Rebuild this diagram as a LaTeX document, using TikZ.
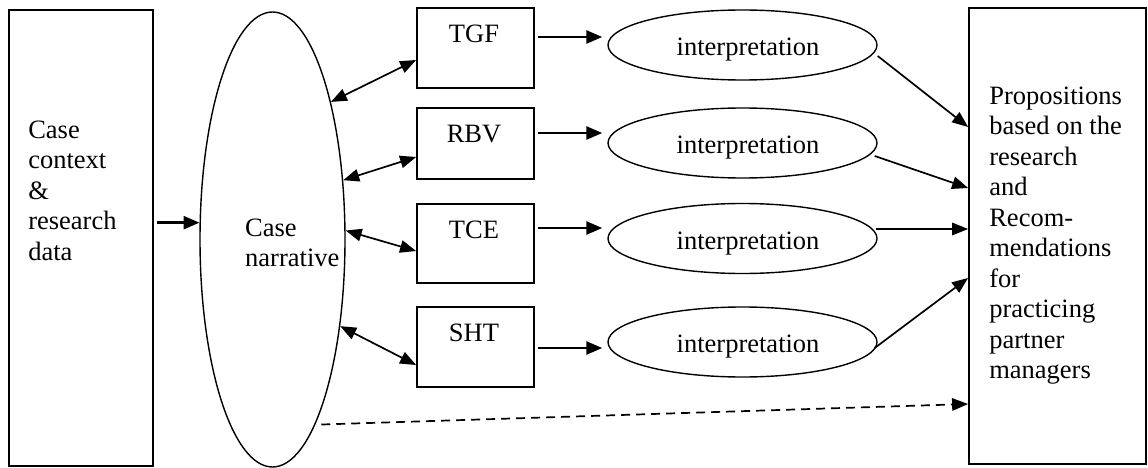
\documentclass[tikz,border=0pt]{standalone}
\usepackage{fontspec}
\setmainfont{Liberation Serif}
\usetikzlibrary{arrows.meta,calc,shapes.geometric}
\begin{document}
\begin{tikzpicture}[x=1pt,y=-1pt,
  txt/.style={inner sep=0pt, font=\fontsize{26.5}{30.5}\selectfont, align=left},
  frame/.style={draw, rectangle, line width=1.8pt, inner sep=0pt},
  oval/.style={draw, ellipse, line width=1.4pt, inner sep=0pt},
  arr/.style={-{Triangle[length=16pt,width=12.5pt]}, line width=1.7pt},
  darr/.style={{Triangle[length=16pt,width=12.5pt]}-{Triangle[length=16pt,width=12.5pt]}, line width=1.7pt},
  harr/.style={-{Triangle[length=16pt,width=13pt]}, line width=2.6pt}]
\useasboundingbox (0,0) rectangle (1148,468);

% source box and the case narrative
\node[frame, minimum width=144pt, minimum height=456pt] (lb) at (81,238) {};
\node[oval, minimum width=145pt, minimum height=455pt] (cn) at (272.5,239.5) {};
\node[txt, anchor=north west] at ($(lb.north west)+(20,111.4)$) {Case\\context\\\&\\research\\data};
\node[txt, anchor=north west] at ($(cn.center)+(-27.5,-21.1)$) {Case\\narrative};

% theory boxes
\node[frame, minimum width=117pt, minimum height=80pt] (tgf) at (475.5,48) {};
\node[frame, minimum width=117pt, minimum height=71pt] (rbv) at (475.5,143.5) {};
\node[frame, minimum width=117pt, minimum height=79pt] (tce) at (475.5,243.5) {};
\node[frame, minimum width=117pt, minimum height=80pt] (sht) at (475.5,347) {};
\node[txt, anchor=base] at ($(tgf.north)+(-1.5,35.5)$) {TGF};
\node[txt, anchor=base] at ($(rbv.north)+(-1.5,35.5)$) {RBV};
\node[txt, anchor=base] at ($(tce.north)+(-1.5,35.5)$) {TCE};
\node[txt, anchor=base] at ($(sht.north)+(-1.5,35.5)$) {SHT};

% interpretation ovals
\node[oval, minimum width=269pt, minimum height=70pt] (i1) at (742.5,45) {};
\node[oval, minimum width=269pt, minimum height=70pt] (i2) at (742.5,143) {};
\node[oval, minimum width=269pt, minimum height=70pt] (i3) at (742.5,238.5) {};
\node[oval, minimum width=269pt, minimum height=70pt] (i4) at (742.5,342) {};
\foreach \n in {i1,i2,i3,i4}
  \node[txt, anchor=base west] at ($(\n.center)+(-66,10.5)$) {interpretation};

% results box
\node[frame, minimum width=177pt, minimum height=456pt] (rb) at (1057.5,236) {};
\node[txt, anchor=north west] at ($(rb.north west)+(21,79.3)$)
  {Propositions\\based on the\\research\\and\\Recom-\\mendations\\for\\practicing\\partner\\managers};

% data into the narrative
\draw[harr, shorten <=3pt] (cn.167.1 -| lb.east) -- (cn.167.1);

% narrative <-> theories
\draw[darr] (cn.67.2) -- ($(tgf.west)+(0,12)$);
\draw[darr] (cn.40.2) -- ($(rbv.west)+(0,13.5)$);
\draw[darr] (cn.7.5) -- ($(tce.west)+(0,7.5)$);
\draw[darr] (cn.-52.3) -- ($(sht.west)+(0,18)$);

% theories to interpretations
\coordinate (a1) at ($(tgf.east)+(3,-11)$);
\coordinate (a2) at ($(rbv.east)+(3,-10.5)$);
\coordinate (a3) at ($(tce.east)+(3,-15.5)$);
\coordinate (a4) at ($(sht.east)+(3,1)$);
\draw[harr, shorten >=5pt] (a1) -- (a1 -| i1.west);
\draw[harr, shorten >=5pt] (a2) -- (a2 -| i2.west);
\draw[harr, shorten >=5pt] (a3) -- (a3 -| i3.west);
\draw[harr, shorten >=5pt] (a4) -- (a4 -| i4.west);

% interpretations to results
\draw[arr] ($(i1.east)+(0,11)$) -- ($(rb.west)+(0,-109)$);
\draw[arr] ($(i2.east)+(-3,13)$) -- ($(rb.west)+(0,-48)$);
\draw[arr] ($(i3.east)+(-2,-9.5)$) -- ($(rb.west)+(0,-7)$);
\draw[arr] ($(i4.east)+(-3,6)$) -- ($(rb.west)+(0,42)$);

% direct route from narrative to results
\draw[arr, dash pattern=on 9pt off 6pt, shorten <=6pt] (cn.-77.5) -- ($(rb.west)+(0,168)$);
\end{tikzpicture}
\end{document}
